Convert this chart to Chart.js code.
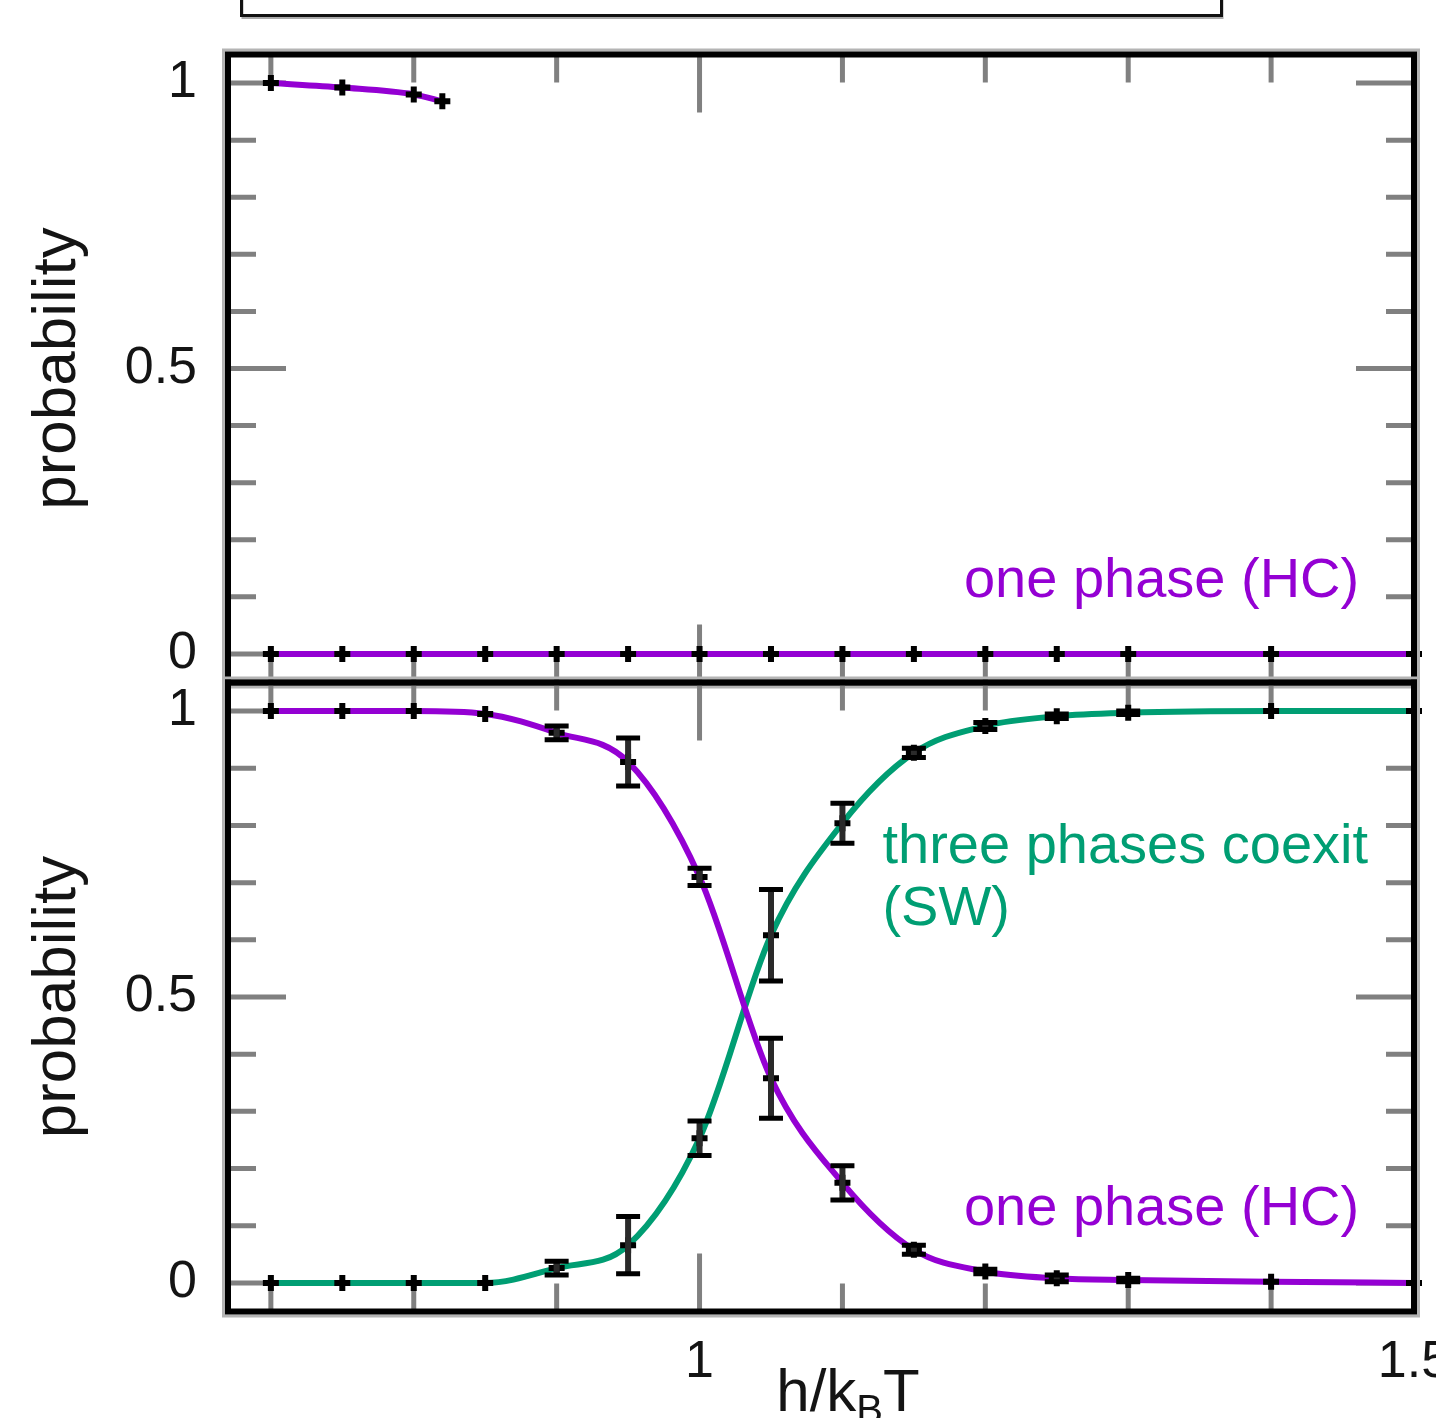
<!DOCTYPE html>
<html><head><meta charset="utf-8">
<script src="https://cdn.jsdelivr.net/npm/chart.js@4/dist/chart.umd.min.js"></script>
<style>
html,body{margin:0;padding:0;background:#fff;overflow:hidden;width:1436px;height:1418px;}
#wrap{position:relative;width:1436px;height:1418px;overflow:hidden;background:#fff;}
canvas{position:absolute;left:0;top:0;}
</style></head><body>
<div id="wrap"><canvas id="cTop" width="1500" height="1418"></canvas><canvas id="cBot" width="1500" height="1418"></canvas></div>
<script>
// ---- data ----
const xValues      = [0.7, 0.75, 0.8, 0.85, 0.9, 0.95, 1.0, 1.05, 1.1, 1.15, 1.2, 1.25, 1.3, 1.4, 1.5];
const topHighX     = [0.7, 0.75, 0.8, 0.82];
const topHighY     = [1.0, 0.992, 0.980, 0.968];
const topZeroY     = [0, 0, 0, 0, 0, 0, 0, 0, 0, 0, 0, 0, 0, 0, 0];
const bottomHC     = [1.0, 1.0, 1.0, 0.995, 0.962, 0.911, 0.710, 0.358, 0.175, 0.058, 0.020, 0.008, 0.005, 0.002, 0.0];
const bottomHCErr  = [0, 0, 0, 0, 0.012, 0.042, 0.015, 0.07, 0.03, 0.008, 0.004, 0.006, 0.003, 0, 0];
const bottomSW     = [0, 0, 0, 0, 0.026, 0.066, 0.253, 0.608, 0.804, 0.927, 0.974, 0.991, 0.997, 1.0, 1.0];
const bottomSWErr  = [0, 0, 0, 0, 0.012, 0.05, 0.03, 0.08, 0.035, 0.008, 0.006, 0.004, 0.003, 0, 0];
const yMajorTicks  = [0, 0.5, 1];
const yMinorTicks  = [0.1, 0.2, 0.3, 0.4, 0.6, 0.7, 0.8, 0.9];
const xMajorTicks  = [1, 1.5];
const xMinorTicks  = [0.7, 0.8, 0.9, 1.1, 1.2, 1.3, 1.4];
const topNotes     = [{text: 'one phase (HC)', x: 1.185, y: 0.10, color: '#9400D3'}];
const bottomNotes  = [
  {text: 'one phase (HC)', x: 1.185, y: 0.101, color: '#9400D3'},
  {text: 'three phases coexit', x: 1.128, y: 0.734, color: '#009E73'},
  {text: '(SW)', x: 1.128, y: 0.626, color: '#009E73'}
];
const yTitle = 'probability';

const PURPLE = '#9400D3', GREEN = '#009E73';
const FONT = "'Liberation Sans', Arial, Helvetica, sans-serif";
const TXT = '#141414';

function pts(xs, ys){ return xs.map((x, i) => ({x: x, y: ys[i]})); }

function series(xs, ys, color, errs){
  return {
    data: pts(xs, ys), errors: errs || null,
    borderColor: color, borderWidth: 6, backgroundColor: color,
    cubicInterpolationMode: 'monotone', fill: false, clip: false,
    pointStyle: 'cross', pointRadius: 8, pointBorderWidth: 6,
    pointBorderColor: '#000', pointBackgroundColor: '#000', pointHoverRadius: 8
  };
}

const axisPlugin = {
  id: 'gnuframe',
  beforeDatasetsDraw(chart){
    const {ctx, chartArea: a, scales: {x, y}} = chart;
    ctx.save();
    ctx.strokeStyle = '#808080'; ctx.lineWidth = 5; ctx.lineCap = 'butt';
    const hl = (py, len) => {
      ctx.beginPath(); ctx.moveTo(a.left, py); ctx.lineTo(a.left + len, py);
      ctx.moveTo(a.right, py); ctx.lineTo(a.right - len, py); ctx.stroke();
    };
    const vl = (px, len) => {
      ctx.beginPath(); ctx.moveTo(px, a.top); ctx.lineTo(px, a.top + len);
      ctx.moveTo(px, a.bottom); ctx.lineTo(px, a.bottom - len); ctx.stroke();
    };
    yMajorTicks.forEach(v => hl(y.getPixelForValue(v), 58));
    yMinorTicks.forEach(v => hl(y.getPixelForValue(v), 28));
    xMajorTicks.forEach(v => vl(x.getPixelForValue(v), 58));
    xMinorTicks.forEach(v => vl(x.getPixelForValue(v), 28));
    ctx.restore();
  },
  afterDatasetsDraw(chart){
    const {ctx, scales: {x, y}} = chart;
    ctx.save();
    chart.data.datasets.forEach(ds => {
      if (!ds.errors) return;
      ds.data.forEach((p, i) => {
        const e = ds.errors[i];
        if (!e) return;
        const px = x.getPixelForValue(p.x);
        const y1 = y.getPixelForValue(p.y - e), y2 = y.getPixelForValue(p.y + e);
        ctx.strokeStyle = '#2a2a2a'; ctx.lineWidth = 6;
        ctx.beginPath(); ctx.moveTo(px, y1); ctx.lineTo(px, y2); ctx.stroke();
        ctx.strokeStyle = '#000'; ctx.lineWidth = 5;
        ctx.beginPath();
        ctx.moveTo(px - 12, y1); ctx.lineTo(px + 12, y1);
        ctx.moveTo(px - 12, y2); ctx.lineTo(px + 12, y2);
        ctx.stroke();
      });
    });
    // annotations
    const notes = chart.options.plugins.gnuframe.notes || [];
    ctx.font = '56px ' + FONT; ctx.textAlign = 'left'; ctx.textBaseline = 'alphabetic';
    notes.forEach(n => {
      ctx.fillStyle = n.color;
      ctx.fillText(n.text, x.getPixelForValue(n.x), y.getPixelForValue(n.y));
    });
    ctx.restore();
  },
  afterDraw(chart){
    const {ctx, chartArea: a} = chart;
    const o = chart.options.plugins.gnuframe;
    ctx.save();
    ctx.strokeStyle = '#b4b4b4'; ctx.lineWidth = 3;
    ctx.strokeRect(a.left - 4.5, a.top - 4.5, a.width + 9, a.height + 9);
    ctx.strokeStyle = '#000'; ctx.lineWidth = 6;
    ctx.strokeRect(a.left, a.top, a.width, a.height);
    if (o.keyBox) {
      ctx.strokeStyle = '#aaa'; ctx.lineWidth = 2;
      ctx.strokeRect(242.5, -10, 980, 28);
      ctx.strokeStyle = '#111'; ctx.lineWidth = 3;
      ctx.strokeRect(241.5, -10, 980, 25.5);
    }
    if (o.xTitle) {
      const base = a.bottom + 99;
      const big = '60px ' + FONT, small = '40px ' + FONT;
      ctx.fillStyle = TXT; ctx.textBaseline = 'alphabetic'; ctx.textAlign = 'left';
      ctx.font = big; const w1 = ctx.measureText('h/k').width, w3 = ctx.measureText('T').width;
      ctx.font = small; const w2 = ctx.measureText('B').width;
      let sx = (a.left + a.right) / 2 + 27 - (w1 + w2 + w3) / 2;
      ctx.font = big; ctx.fillText('h/k', sx, base); sx += w1;
      ctx.font = small; ctx.fillText('B', sx, base + 12); sx += w2;
      ctx.font = big; ctx.fillText('T', sx, base);
    }
    ctx.restore();
  }
};

function clearPad(s){ s.paddingTop = 0; s.paddingBottom = 0; s.paddingLeft = 0; s.paddingRight = 0; }

function yScale(){
  return {
    type: 'linear', min: -0.05, max: 1.05,
    afterBuildTicks: s => { s.ticks = yMajorTicks.map(v => ({value: v})); },
    afterFit: s => { s.width = 228; clearPad(s); },
    grid: {display: false, drawTicks: false}, border: {display: false},
    ticks: {font: {size: 52, family: FONT}, color: TXT, padding: 31, callback: v => String(v)},
    title: {display: true, text: yTitle, font: {size: 62, family: FONT}, color: TXT, padding: {top: 21, bottom: 0}}
  };
}

function makeChart(id, datasets, pad, xDisplay, pluginOpts){
  return new Chart(document.getElementById(id), {
    type: 'line',
    data: {datasets: datasets},
    plugins: [axisPlugin],
    options: {
      responsive: false, animation: false, events: [],
      layout: {padding: pad},
      plugins: {legend: {display: false}, tooltip: {enabled: false}, gnuframe: pluginOpts},
      scales: {
        x: {
          type: 'linear', min: 0.67, max: 1.5, display: xDisplay,
          afterBuildTicks: s => { s.ticks = xMajorTicks.map(v => ({value: v})); },
          afterFit: s => { s.height = xDisplay ? 106.5 : 0; clearPad(s); },
          grid: {display: false, drawTicks: false}, border: {display: false},
          ticks: {font: {size: 52, family: FONT}, color: TXT, padding: 20, maxRotation: 0, autoSkip: false, callback: v => String(v)}
        },
        y: yScale()
      }
    }
  });
}

makeChart('cTop', [
  series(topHighX, topHighY, PURPLE),
  series(xValues, topZeroY, PURPLE)
], {top: 54.5, bottom: 735.5, left: 0, right: 86}, false, {notes: topNotes, keyBox: true});

makeChart('cBot', [
  series(xValues, bottomHC, PURPLE, bottomHCErr),
  series(xValues, bottomSW, GREEN, bottomSWErr)
], {top: 682.5, bottom: 0, left: 0, right: 86}, true, {notes: bottomNotes, xTitle: true});
</script>
</body></html>
